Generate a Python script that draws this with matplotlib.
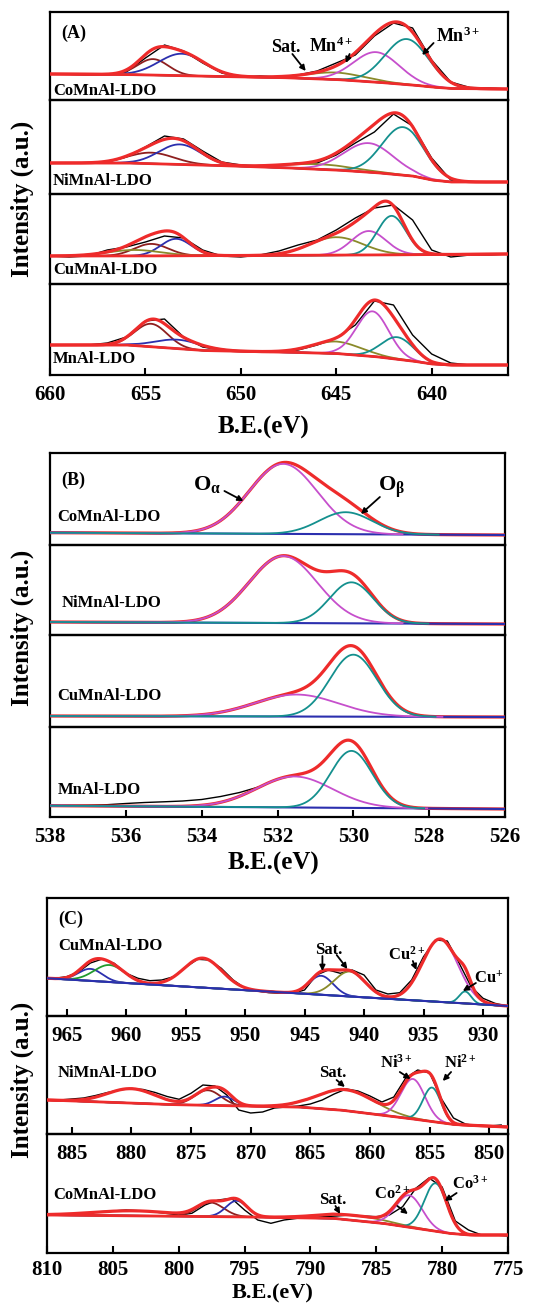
import numpy as np
import matplotlib.pyplot as plt

plt.rcParams["font.family"] = ["Liberation Serif", "DejaVu Serif"]
plt.rcParams["font.weight"] = "bold"
plt.rcParams["mathtext.fontset"] = "custom"
plt.rcParams["mathtext.rm"] = "Liberation Serif:bold"
plt.rcParams["mathtext.it"] = "Liberation Serif:bold"
plt.rcParams["mathtext.bf"] = "Liberation Serif:bold"
plt.rcParams["mathtext.default"] = "bf"

RED = "#ee2b2b"
BLUE = "#2b2fae"
BROWN = "#8e1f1f"
OLIVE = "#8a8a2a"
MAGENTA = "#c64fcc"
TEAL = "#14908e"
GREEN = "#229a2e"

# ---------------- (A) Mn 2p ----------------
a_grid = list(range(660, 635, -1))
a_raw_co = [26, 25.7, 25, 25, 28, 42, 55, 49, 37, 27, 23, 24, 23, 25, 29, 37, 45, 64, 77, 72, 40, 18, 12.5, 12, 11]
a_raw_ni = [30.7, 30.7, 31, 32, 37, 47, 58, 55, 43, 32, 29, 28, 29, 31, 31, 39, 51, 62, 80, 68, 36, 14, 12, 12, 12]
a_raw_cu = [28, 27, 28, 34, 37, 42, 48, 46, 34, 28, 27, 29, 33, 39, 44, 54, 66, 76, 79, 64, 34, 27, 29, 29, 30]
a_raw_mn = [30, 30, 30, 32, 38, 54, 56, 38, 28, 25, 24, 23, 23, 25, 30, 37, 50, 74, 70, 40, 21, 12, 10, 10, 10]

a_bg_e = [660, 656, 652, 648, 645, 643, 641, 640, 639, 636]
a_bg_co = [26, 25.5, 23.8, 22.5, 20.5, 18, 15, 13, 11.5, 11]
a_bg_ni = [31, 31, 29, 26.5, 24, 21.5, 18, 14, 12, 12]
a_bg_cu = [28, 28, 28.3, 28.5, 28.8, 29, 29.3, 29.5, 29.5, 30]
a_bg_mn = [30, 30, 24.5, 23, 21.5, 18.5, 14, 11, 10, 10]

# Mn 2p1/2 (x2), satellite, Mn4+, Mn3+
a_pos_co = [654.6, 653.1, 645.0, 642.9, 641.3]
a_amp_co = [16, 22, 7, 30, 45.5]
a_wid_co = [0.8, 1.2, 1.5, 1.2, 1.15]
a_pos_ni = [654.7, 653.2, 645.9, 643.3, 641.5]
a_amp_ni = [11, 20, 5, 29, 48]
a_wid_ni = [1.2, 1.1, 1.8, 1.3, 1.1]
a_pos_cu = [654.7, 653.4, 645.0, 643.3, 642.1, 655.6]
a_amp_cu = [12, 17, 18, 24, 39, 6]
a_wid_cu = [0.9, 0.8, 1.4, 0.9, 0.75, 1.4]
a_pos_mn = [654.7, 653.3, 645.0, 643.1, 641.8]
a_amp_mn = [23, 9, 12, 45, 22]
a_wid_mn = [0.85, 1.2, 1.3, 0.85, 0.85]

# ---------------- (B) O 1s ----------------
b_bg_e = [538, 526]
b_bg_co = [12.3, 10]
b_bg_ni = [13, 11]
b_bg_cu = [11, 10]
b_bg_mn = [11.3, 8]
b_pos_co = [531.85, 530.2]
b_amp_co = [70, 22]
b_wid_co = [0.9, 0.7]
b_pos_ni = [531.85, 530.05]
b_amp_ni = [67, 41]
b_wid_ni = [0.9, 0.58]
b_pos_cu = [531.5, 530.0]
b_amp_cu = [22, 62]
b_wid_cu = [1.1, 0.62]
b_pos_mn = [531.55, 530.05]
b_amp_mn = [31, 57]
b_wid_mn = [1.0, 0.55]
b_raw_mn_e = [538, 537.5, 537, 536.5, 536, 535.5, 535, 534.5, 534, 533.5, 533, 532.5]
b_raw_mn = [11, 11.5, 11.8, 12.3, 13.5, 14.5, 15.2, 16, 17.5, 20.5, 24.5, 30]

# ---------------- (C) Cu 2p / Ni 2p / Co 2p ----------------
c_cu_grid = list(range(966, 927, -1))
c_cu_raw = [37.7, 39.3, 44, 53, 57, 52.7, 42.7, 37.7, 35.3, 36, 39.3, 48.7, 56.7, 56, 47.7, 36,
            27.7, 25, 23.3, 22.7, 22.7, 26, 41, 46, 42.7, 46, 41, 26, 22, 23.3, 36, 59.3, 76,
            75, 52.7, 29.3, 17.7, 12.7, 10]
c_cu_bg_e = [967, 928]
c_cu_bg = [38, 10]
c_cu_pos = [963.0, 961.4, 953.55, 943.6, 941.2, 933.6, 931.5]
c_cu_amp = [12, 17, 29.5, 19, 25, 63, 12]
c_cu_wid = [1.0, 1.3, 1.6, 1.0, 1.3, 1.5, 0.5]

c_ni_grid = list(range(887, 848, -1))
c_ni_raw = [34, 34, 35, 36, 38.5, 41.5, 44, 45.5, 44.5, 41.5, 37.5, 34.7, 40.7, 49, 48, 39,
            24, 21, 22, 26, 27, 28, 30, 34, 40, 45, 43, 38, 32, 37, 56, 64, 61, 35, 16, 10, 8, 8, 9]
c_ni_bg_e = [887.1, 877, 866, 862.5, 857, 853, 848.4]
c_ni_bg = [34, 29.5, 27, 24, 16, 9.5, 7]
c_ni_pos = [880.0, 873.6, 872.2, 862.0, 856.4, 854.8]
c_ni_amp = [14.5, 15, 9, 21, 40, 34]
c_ni_wid = [2.0, 1.1, 0.8, 2.4, 1.0, 0.75]

c_co_grid = list(range(810, 774, -1))
c_co_raw = [38, 38, 39, 39.7, 41.3, 42, 43, 42.3, 41.3, 39.7, 38, 39.7, 48, 53, 54.7, 43, 33,
            29.7, 33, 34.7, 35.3, 36.3, 37, 38, 37, 36.3, 38, 46.3, 64.7, 75, 66, 32, 23, 18, 18, 17]
c_co_bg_e = [810, 796, 788.3, 784.5, 782, 779.5, 778, 775]
c_co_bg = [38, 36.3, 34.7, 29.7, 24.7, 19.7, 18, 18]
c_co_pos = [803.5, 797.6, 795.6, 786.8, 782.5, 780.5]
c_co_amp = [5, 14, 16, 5, 32, 48]
c_co_wid = [3.0, 1.0, 0.8, 2.5, 1.0, 0.85]

W, H = 533, 1304
fig = plt.figure(figsize=(W / 100, H / 100), dpi=100)


def px_axes(l, t, r, b):
    ax = fig.add_axes([l / W, 1 - b / H, (r - l) / W, (b - t) / H])
    ax.patch.set_visible(False)
    for s in ax.spines.values():
        s.set_linewidth(1.6)
    ax.set_yticks([])
    ax.set_ylim(0, b - t)
    return ax


def draw_fit(ax, lims, bg_e, bg_y, pos, amp, wid, cols, raw_e=None, raw_y=None,
             bg_col=RED, comps_top=False, cut=None):
    x = np.linspace(lims[0], lims[1], 1200)
    order = np.argsort(bg_e)
    bg = np.interp(x, np.array(bg_e, float)[order], np.array(bg_y, float)[order])
    total = bg.copy()
    zc = 4 if comps_top else 2
    for c, h, w, col in zip(pos, amp, wid, cols):
        p = h * np.exp(-0.5 * ((x - c) / w) ** 2)
        total += p
        if col is None:
            continue
        m = x > c - cut * w if cut else np.ones_like(x, bool)
        ax.plot(x[m], (bg + p)[m], color=col, lw=1.3, zorder=zc)
    if raw_e is not None:
        ax.plot(raw_e, raw_y, color="k", lw=1.0, zorder=1)
    ax.plot(x, total, color=RED, lw=2.3, zorder=3)
    ax.plot(x, bg, color=bg_col, lw=2.0 if bg_col == RED else 1.5, zorder=3.5)
    ax.set_xlim(*lims)


def arrow(ax, start, tip):
    ax.annotate("", xy=tip, xytext=start,
                arrowprops=dict(arrowstyle="-|>", color="k", lw=1.3, mutation_scale=8,
                                shrinkA=0, shrinkB=0), zorder=6)


def ticks(ax, vals, pad=7):
    ax.set_xticks(vals)
    ax.tick_params(axis="x", direction="in", length=5, width=1.5, labelsize=15, pad=pad)
    for t in ax.get_xticklabels():
        t.set_fontweight("bold")


def ylab(yc):
    fig.text(22 / W, 1 - yc / H, "Intensity (a.u.)", rotation=90, ha="center", va="center",
             fontsize=18, fontweight="bold")


def xlab(xc, yc, size=18, va="center"):
    fig.text(xc / W, 1 - yc / H, "B.E.(eV)", ha="center", va=va, fontsize=size,
             fontweight="bold")


# ---- panel A ----
a_cols = [BROWN, BLUE, OLIVE, MAGENTA, TEAL]
a_edges = [12, 100, 194, 284, 375]
a_sets = [(a_raw_co, a_bg_co, a_pos_co, a_amp_co, a_wid_co, a_cols, "CoMnAl-LDO", 9),
          (a_raw_ni, a_bg_ni, a_pos_ni, a_amp_ni, a_wid_ni, a_cols, "NiMnAl-LDO", 13),
          (a_raw_cu, a_bg_cu, a_pos_cu, a_amp_cu, a_wid_cu, a_cols + [OLIVE], "CuMnAl-LDO", 14),
          (a_raw_mn, a_bg_mn, a_pos_mn, a_amp_mn, a_wid_mn, a_cols, "MnAl-LDO", 16)]
a_axes = []
for i, (raw, bg, pos, amp, wid, cols, name, ty) in enumerate(a_sets):
    ax = px_axes(50, a_edges[i], 508, a_edges[i + 1])
    draw_fit(ax, (660, 636), a_bg_e, bg, pos, amp, wid, cols, a_grid, raw)
    ax.text(659.85, ty, name, fontsize=12, fontweight="bold", va="center", ha="left")
    if i < 3:
        ax.set_xticks([])
    else:
        ticks(ax, [660, 655, 650, 645, 640])
    a_axes.append(ax)
ax = a_axes[0]
ax.text(659.4, 67, "(A)", fontsize=13, fontweight="bold", va="center", ha="left")
ax.text(647.66, 53, "Sat.", fontsize=13, ha="center", va="center")
arrow(ax, (647.3, 46), (646.6, 29))
ax.text(645.25, 54, r"Mn$^{4+}$", fontsize=13, ha="center", va="center")
arrow(ax, (644.3, 46), (644.5, 37))
ax.text(638.6, 64, r"Mn$^{3+}$", fontsize=13, ha="center", va="center")
arrow(ax, (639.9, 57), (640.5, 45))
ylab(199)
xlab(264, 427)

# ---- panel B ----
b_cols = [MAGENTA, TEAL]
b_edges = [453, 545, 635, 727, 817]
b_sets = [(b_bg_co, b_pos_co, b_amp_co, b_wid_co, "CoMnAl-LDO", 537.8, 28),
          (b_bg_ni, b_pos_ni, b_amp_ni, b_wid_ni, "NiMnAl-LDO", 537.7, 32),
          (b_bg_cu, b_pos_cu, b_amp_cu, b_wid_cu, "CuMnAl-LDO", 537.8, 31),
          (b_bg_mn, b_pos_mn, b_amp_mn, b_wid_mn, "MnAl-LDO", 537.8, 27)]
b_axes = []
for i, (bg, pos, amp, wid, name, tx, ty) in enumerate(b_sets):
    ax = px_axes(50, b_edges[i], 505, b_edges[i + 1])
    if i == 3:
        draw_fit(ax, (538, 526), b_bg_e, bg, pos, amp, wid, b_cols, b_raw_mn_e, b_raw_mn,
                 bg_col=BLUE, comps_top=True, cut=3.5)
    else:
        draw_fit(ax, (538, 526), b_bg_e, bg, pos, amp, wid, b_cols,
                 bg_col=BLUE, comps_top=True, cut=3.5)
    ax.text(tx, ty, name, fontsize=12, fontweight="bold", va="center", ha="left")
    if i < 3:
        ax.set_xticks([])
    else:
        ticks(ax, [538, 536, 534, 532, 530, 528, 526])
    b_axes.append(ax)
ax = b_axes[0]
ax.text(537.7, 65, "(B)", fontsize=13, fontweight="bold", va="center", ha="left")
ax.text(533.85, 60, r"O$_{\alpha}$", fontsize=16, ha="center", va="center")
arrow(ax, (533.4, 54), (532.9, 44))
ax.text(529.0, 58, r"O$_{\beta}$", fontsize=16, ha="center", va="center")
arrow(ax, (529.3, 48), (529.8, 31))
ylab(628)
xlab(273, 863)

# ---- panel C ----
c_edges = [898, 1016, 1134, 1253]
ax = px_axes(47, c_edges[0], 508, c_edges[1])
draw_fit(ax, (966.65, 927.9), c_cu_bg_e, c_cu_bg, c_cu_pos, c_cu_amp, c_cu_wid,
         [BLUE, GREEN, None, BLUE, OLIVE, MAGENTA, TEAL], c_cu_grid, c_cu_raw, bg_col=BLUE)
ticks(ax, [965, 960, 955, 950, 945, 940, 935, 930])
ax.text(965.7, 97, "(C)", fontsize=13, fontweight="bold", va="center", ha="left")
ax.text(965.7, 70, "CuMnAl-LDO", fontsize=12, va="center", ha="left")
ax.text(942.95, 66, "Sat.", fontsize=12, ha="center", va="center")
arrow(ax, (943.5, 60), (943.5, 45))
arrow(ax, (942.3, 61), (941.4, 47))
ax.text(936.4, 61, r"Cu$^{2+}$", fontsize=12, ha="center", va="center")
arrow(ax, (935.9, 55), (935.6, 46))
ax.text(929.5, 37, r"Cu$^{+}$", fontsize=12, ha="center", va="center")
arrow(ax, (930.6, 33), (931.7, 25))

ax = px_axes(47, c_edges[1], 508, c_edges[2])
draw_fit(ax, (887.07, 848.43), c_ni_bg_e, c_ni_bg, c_ni_pos, c_ni_amp, c_ni_wid,
         [None, BROWN, BLUE, OLIVE, MAGENTA, TEAL], c_ni_grid, c_ni_raw)
ticks(ax, [885, 880, 875, 870, 865, 860, 855, 850])
ax.text(886.15, 61, "NiMnAl-LDO", fontsize=12, va="center", ha="left")
ax.text(863.1, 61, "Sat.", fontsize=12, ha="center", va="center")
arrow(ax, (862.8, 54), (862.1, 47))
ax.text(857.8, 71, r"Ni$^{3+}$", fontsize=12, ha="center", va="center")
arrow(ax, (857.5, 62), (856.6, 55))
ax.text(852.4, 71, r"Ni$^{2+}$", fontsize=12, ha="center", va="center")
arrow(ax, (853.2, 62), (853.9, 53))

ax = px_axes(47, c_edges[2], 508, c_edges[3])
draw_fit(ax, (810, 775), c_co_bg_e, c_co_bg, c_co_pos, c_co_amp, c_co_wid,
         [None, BROWN, BLUE, OLIVE, MAGENTA, TEAL], c_co_grid, c_co_raw)
ticks(ax, [810, 805, 800, 795, 790, 785, 780, 775], pad=5)
ax.text(809.5, 58, "CoMnAl-LDO", fontsize=12, va="center", ha="left")
ax.text(788.3, 53, "Sat.", fontsize=12, ha="center", va="center")
arrow(ax, (788.1, 47), (787.75, 39))
ax.text(783.8, 59, r"Co$^{2+}$", fontsize=12, ha="center", va="center")
arrow(ax, (783.4, 47), (782.6, 39))
ax.text(777.9, 69, r"Co$^{3+}$", fontsize=12, ha="center", va="center")
arrow(ax, (778.9, 60), (779.8, 52))
ylab(1080)
xlab(273, 1303, size=16, va="bottom")

fig.savefig("out.png", dpi=100)
